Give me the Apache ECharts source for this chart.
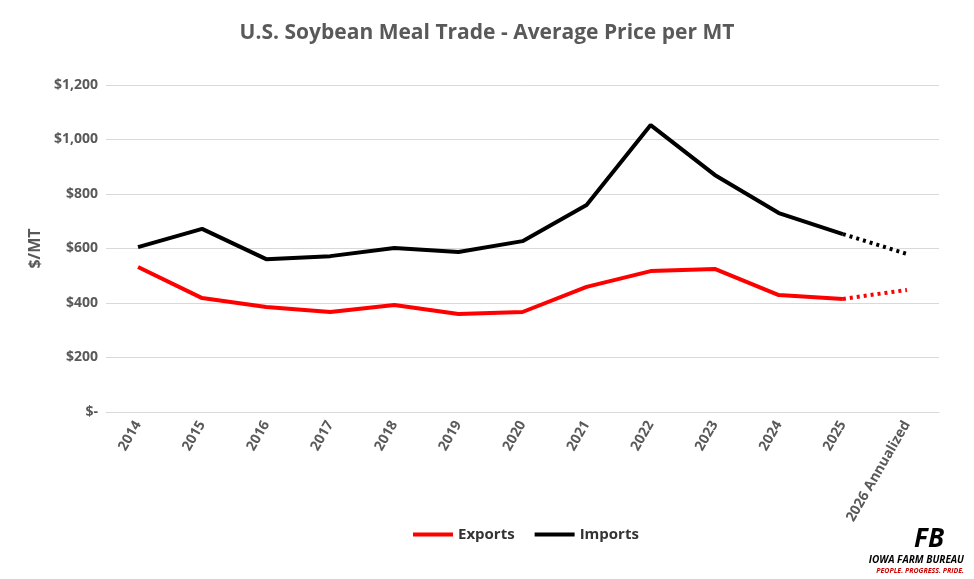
<!DOCTYPE html>
<html><head><meta charset="utf-8">
<script src="https://cdn.jsdelivr.net/npm/echarts@6/dist/echarts.min.js"></script>
<style>html,body{margin:0;padding:0;background:#fff}#c{width:974px;height:579px}</style>
</head><body><div id="c"></div>
<script>
const categories=['2014','2015','2016','2017','2018','2019','2020','2021','2022','2023','2024','2025','2026 Annualized'];
const exportsVals=[532,418,385,367,393,360,367,459,517,525,429,415,448];
const importsVals=[605,672,561,572,602,587,627,760,1053,870,730,653,580];
const yTicks=[0,200,400,600,800,1000,1200];
const n=categories.length;
const solid=a=>a.map((v,i)=>i<n-1?v:null);
const dotted=a=>a.map((v,i)=>i>=n-2?v:null);
const chart=echarts.init(document.getElementById('c'));
chart.setOption({
 animation:false,
 title:{text:'U.S. Soybean Meal Trade - Average Price per MT',left:'center',top:18,textStyle:{fontFamily:'Open Sans',fontSize:21,fontWeight:'bold',color:'#595959'}},
 grid:{left:106,right:35,top:85,bottom:167},
 legend:{data:['Exports','Imports'],bottom:32,left:408,itemWidth:40,itemHeight:4,icon:'rect',itemGap:20,textStyle:{fontFamily:'Open Sans',fontSize:15,fontWeight:'bold',color:'#333'}},
 xAxis:{type:'category',data:categories,boundaryGap:true,axisTick:{show:false},axisLine:{lineStyle:{color:'#d9d9d9'}},
  axisLabel:{rotate:60,interval:0,fontFamily:'Open Sans',fontSize:14,fontWeight:'bold',color:'#595959',margin:10}},
 yAxis:{type:'value',min:yTicks[0],max:yTicks[yTicks.length-1],interval:200,name:'$/MT',nameLocation:'middle',nameGap:62,
  nameTextStyle:{fontFamily:'Open Sans',fontSize:16,fontWeight:'bold',color:'#595959'},
  axisLabel:{fontFamily:'Open Sans',fontSize:14,fontWeight:'bold',color:'#595959',formatter:v=>v===0?'$-':'$'+v.toLocaleString('en-US')},
  splitLine:{lineStyle:{color:'#d9d9d9'}}},
 series:[
  {name:'Exports',type:'line',data:solid(exportsVals),symbol:'none',lineStyle:{color:'#ff0000',width:4},itemStyle:{color:'#ff0000'}},
  {name:'Imports',type:'line',data:solid(importsVals),symbol:'none',lineStyle:{color:'#000',width:4},itemStyle:{color:'#000'}},
  {name:'ExportsDot',type:'line',data:dotted(exportsVals),symbol:'none',lineStyle:{color:'#ff0000',width:4,type:[3,4]}},
  {name:'ImportsDot',type:'line',data:dotted(importsVals),symbol:'none',lineStyle:{color:'#000',width:4,type:[3,4]}}
 ],
 graphic:[
  {type:'text',right:10,bottom:14,style:{text:'IOWA FARM BUREAU',font:'italic bold 10px Open Sans',fill:'#000'}},
  {type:'text',right:10,bottom:5,style:{text:'PEOPLE. PROGRESS. PRIDE.',font:'italic bold 7px Open Sans',fill:'#c00'}},
  {type:'text',right:30,bottom:26,style:{text:'FB',font:'italic bold 26px Open Sans',fill:'#000'}}
 ]
});
</script></body></html>
